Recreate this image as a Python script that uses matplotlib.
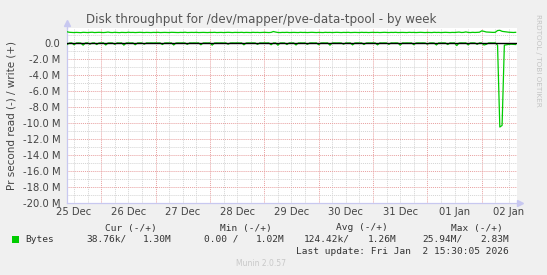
import datetime as dt
import numpy as np
import matplotlib
matplotlib.use("Agg")
import matplotlib.pyplot as plt
import matplotlib.dates as mdates

W, H = 547, 275

# hourly samples, Dec 25 09:00 .. Jan 02 15:00, values in MB/s
start = dt.datetime(2025, 12, 25, 9, 0)

write_mb = [
    1.36, 1.30, 1.28, 1.27, 1.29, 1.28, 1.26, 1.30, 1.28, 1.27, 1.29, 1.31, 1.27, 1.28, 1.30,
    1.28, 1.27, 1.29, 1.33, 1.28, 1.27, 1.30, 1.28, 1.26, 1.29, 1.28, 1.27, 1.31, 1.28, 1.29, 1.27, 1.28, 1.30, 1.28, 1.27, 1.29, 1.28, 1.27, 1.29,
    1.28, 1.30, 1.27, 1.28, 1.29, 1.28, 1.27, 1.30, 1.29, 1.28, 1.27, 1.29, 1.28, 1.31, 1.27, 1.28, 1.29, 1.28, 1.30, 1.27, 1.28, 1.29, 1.28, 1.27,
    1.29, 1.28, 1.30, 1.27, 1.28, 1.29, 1.27, 1.28, 1.30, 1.28, 1.27, 1.29, 1.28, 1.28, 1.30, 1.27, 1.29, 1.28, 1.27, 1.30, 1.28, 1.29, 1.27, 1.28,
    1.30, 1.28, 1.27, 1.29, 1.40, 1.33, 1.28, 1.27, 1.29, 1.28, 1.30, 1.27, 1.28, 1.29, 1.28, 1.27, 1.30, 1.28, 1.29, 1.27, 1.28, 1.30, 1.28, 1.27,
    1.29, 1.28, 1.27, 1.30, 1.28, 1.29, 1.27, 1.28, 1.30, 1.28, 1.27, 1.29, 1.28, 1.30, 1.27, 1.28, 1.29, 1.28, 1.27, 1.30, 1.28, 1.29, 1.27, 1.28,
    1.30, 1.28, 1.29, 1.27, 1.28, 1.30, 1.28, 1.27, 1.29, 1.28, 1.30, 1.27, 1.28, 1.29, 1.28, 1.27, 1.30, 1.28, 1.29, 1.27, 1.28, 1.30, 1.28, 1.27,
    1.29, 1.28, 1.27, 1.30, 1.28, 1.29, 1.27, 1.28, 1.30, 1.28, 1.27, 1.29, 1.28, 1.30, 1.33, 1.28, 1.29, 1.35, 1.29, 1.27, 1.30, 1.28, 1.29, 1.31,
    1.48, 1.42, 1.34, 1.32, 1.30, 1.29, 1.30, 1.52, 1.55, 1.42, 1.38, 1.33, 1.31, 1.29, 1.28, 1.30,
]

read_mb = [
    0.20, 0.03, 0.02, 0.25, 0.03, 0.02, 0.04, 0.30, 0.03, 0.02, 0.18, 0.03, 0.02, 0.22, 0.03,
    0.03, 0.02, 0.28, 0.03, 0.02, 0.03, 0.20, 0.02, 0.03, 0.02, 0.30, 0.03, 0.02, 0.03, 0.02, 0.25, 0.03, 0.02, 0.03, 0.18, 0.02, 0.03, 0.02, 0.03,
    0.02, 0.03, 0.02, 0.22, 0.03, 0.02, 0.03, 0.02, 0.28, 0.03, 0.02, 0.03, 0.02, 0.03, 0.20, 0.02, 0.03, 0.02, 0.03, 0.02, 0.25, 0.03, 0.02, 0.03,
    0.02, 0.30, 0.03, 0.02, 0.03, 0.02, 0.03, 0.02, 0.18, 0.03, 0.02, 0.03, 0.02, 0.03, 0.02, 0.26, 0.03, 0.02, 0.03, 0.02, 0.03, 0.20, 0.02, 0.03,
    0.02, 0.03, 0.02, 0.25, 0.03, 0.02, 0.30, 0.03, 0.02, 0.03, 0.22, 0.02, 0.03, 0.02, 0.28, 0.03, 0.02, 0.03, 0.02, 0.20, 0.03, 0.02, 0.03, 0.02,
    0.24, 0.03, 0.02, 0.03, 0.02, 0.30, 0.03, 0.02, 0.03, 0.02, 0.03, 0.18, 0.02, 0.03, 0.02, 0.27, 0.03, 0.02, 0.03, 0.02, 0.22, 0.03, 0.02, 0.03,
    0.02, 0.03, 0.26, 0.02, 0.03, 0.02, 0.03, 0.20, 0.02, 0.03, 0.02, 0.03, 0.30, 0.02, 0.03, 0.02, 0.03, 0.02, 0.24, 0.03, 0.02, 0.03, 0.02, 0.03,
    0.18, 0.03, 0.02, 0.03, 0.28, 0.02, 0.03, 0.02, 0.03, 0.22, 0.02, 0.03, 0.02, 0.35, 0.03, 0.02, 0.03, 0.02, 0.26, 0.03, 0.02, 0.03, 0.20, 0.02,
    0.03, 0.28, 0.20, 0.03, 0.02, 0.03, 0.02, 0.30, 10.5, 10.3, 0.30, 0.25, 0.20, 0.18, 0.20, 0.22,
]

times = [start + dt.timedelta(hours=i) for i in range(len(write_mb))]

y_ticks = [0, -2, -4, -6, -8, -10, -12, -14, -16, -18, -20]
y_labels = ["0.0", "-2.0 M", "-4.0 M", "-6.0 M", "-8.0 M", "-10.0 M", "-12.0 M",
            "-14.0 M", "-16.0 M", "-18.0 M", "-20.0 M"]
x_labels = ["25 Dec", "26 Dec", "27 Dec", "28 Dec", "29 Dec", "30 Dec", "31 Dec", "01 Jan", "02 Jan"]
x_ticks = [dt.datetime(2025, 12, 25, 12) + dt.timedelta(days=i) for i in range(len(x_labels))]

legend_head = ["Cur (-/+)", "Min (-/+)", "Avg (-/+)", "Max (-/+)"]
legend_vals = [("38.76k/", "1.30M"), ("0.00 /", "1.02M"), ("124.42k/", "1.26M"), ("25.94M/", "2.83M")]

GREEN = "#00CC00"
TXT = "#444444"
AXIS = "#C8C8F0"

fig = plt.figure(figsize=(W / 100, H / 100), dpi=100, facecolor="#F0F0F0")

left, right, top, bottom = 66.7, 516.8, 28.3, 203.3
ax = fig.add_axes([left / W, 1 - bottom / H, (right - left) / W, (bottom - top) / H])
ax.set_facecolor("white")

# grid: minor every 6h / 1M grey, major at midnight / 2M red
t0 = dt.datetime(2025, 12, 25, 6)
for i in range(0, 40):
    t = t0 + dt.timedelta(hours=6 * i)
    if t.hour == 0:
        ax.axvline(t, color="#E8A0A0", lw=0.7, ls=(0, (1, 1)), zorder=1)
    else:
        ax.axvline(t, color="#D4D4D4", lw=0.7, ls=(0, (1, 1)), zorder=1)
for v in range(-20, 2):
    if v % 2 == 0:
        ax.axhline(v, color="#E8A0A0", lw=0.7, ls=(0, (1, 1)), zorder=1)
    else:
        ax.axhline(v, color="#D4D4D4", lw=0.7, ls=(0, (1, 1)), zorder=1)

ax.plot(times, write_mb, color=GREEN, lw=0.9, zorder=3)
ax.plot(times, [-r for r in read_mb], color=GREEN, lw=0.9, zorder=3)
ax.axhline(0, color="black", lw=1.0, zorder=4)

ax.set_xlim(dt.datetime(2025, 12, 25, 8, 45), dt.datetime(2026, 1, 2, 15, 30))
ax.set_ylim(-20, 1.8)

ax.set_yticks(y_ticks)
ax.set_yticklabels(y_labels)
ax.set_xticks(x_ticks)
ax.set_xticklabels(x_labels)
ax.tick_params(axis="both", length=0, labelsize=7.2, labelcolor=TXT)
ax.tick_params(axis="y", pad=4.5)
ax.tick_params(axis="x", pad=3)

for s in ["top", "right"]:
    ax.spines[s].set_visible(False)
for s in ["left", "bottom"]:
    ax.spines[s].set_color(AXIS)
    ax.spines[s].set_linewidth(0.9)

# axis arrows
ax.plot([0, 0], [1.0, 1.02], color=AXIS, lw=0.9, transform=ax.transAxes, clip_on=False)
ax.plot([0], [1.03], marker="^", ms=4.5, color=AXIS, transform=ax.transAxes, clip_on=False)
ax.plot([1.008], [0], marker=">", ms=4.5, color=AXIS, transform=ax.transAxes, clip_on=False)


def px(x, y):
    return x / W, 1 - y / H


fig.text(*px(261, 19), "Disk throughput for /dev/mapper/pve-data-tpool - by week",
         ha="center", va="center", fontsize=8.6, color="#555555")
fig.text(*px(12, 116), "Pr second read (-) / write (+)", rotation=90,
         ha="center", va="center", fontsize=7.5, color=TXT)
fig.text(*px(538, 60), "RRDTOOL / TOBI OETIKER", rotation=270,
         ha="center", va="center", fontsize=5.2, color="#C4C4C4")

mono = dict(family="DejaVu Sans Mono", fontsize=6.8, color="#333333", va="center")
head_right = [157, 272, 388, 503]
for h, xr in zip(legend_head, head_right):
    fig.text(*px(xr, 228), h, ha="right", **mono)

fig.patches.append(plt.Rectangle(px(11.5, 242.5), 7 / W, 7 / H, transform=fig.transFigure,
                                 facecolor=GREEN, edgecolor="none"))
fig.text(*px(25, 239.5), "Bytes", ha="left", **mono)
val_pos = [(86, 172), (204, 285), (304, 397), (422, 509)]
for (a, b), (xa, xb) in zip(legend_vals, val_pos):
    fig.text(*px(xa, 239.5), a, ha="left", **mono)
    fig.text(*px(xb, 239.5), b, ha="right", **mono)

fig.text(*px(509, 252), "Last update: Fri Jan  2 15:30:05 2026", ha="right", **mono)
fig.text(*px(261, 264), "Munin 2.0.57", ha="center", va="center", fontsize=5.5, color="#C8C8C8")

fig.savefig("out.png", dpi=100, facecolor=fig.get_facecolor())
